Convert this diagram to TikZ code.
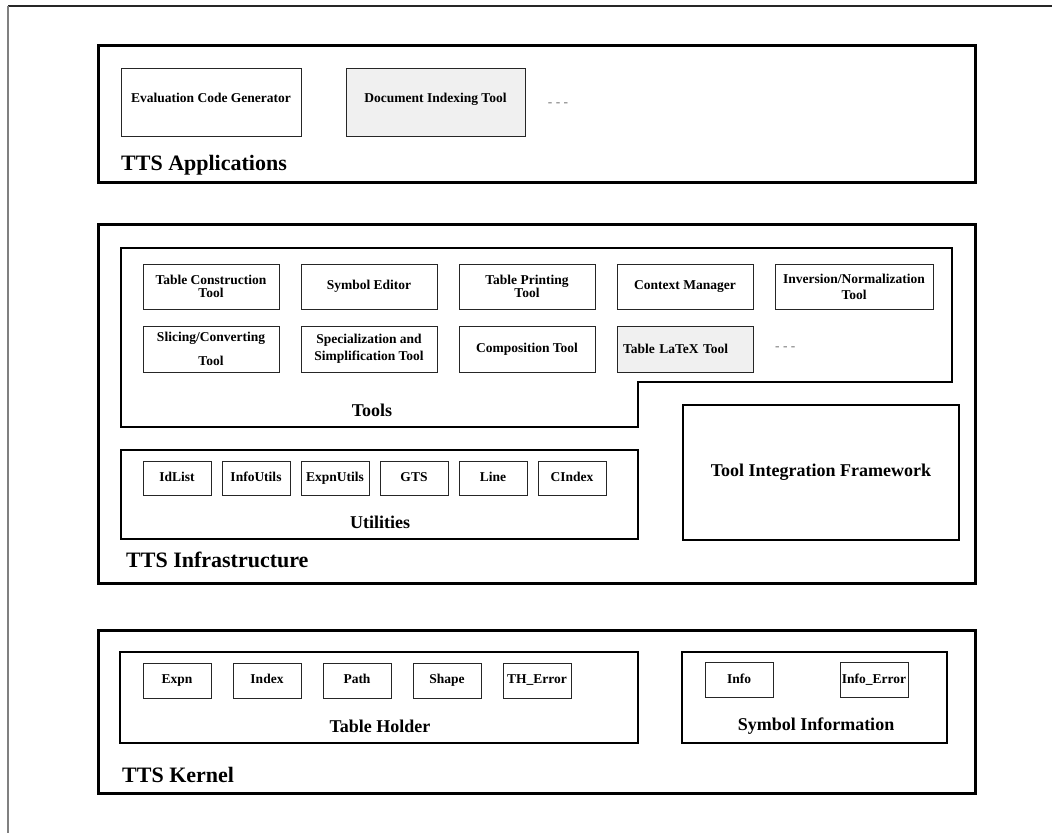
\documentclass[tikz,border=0pt]{standalone}
\usepackage{fontspec}
\setmainfont{Liberation Serif}
\usetikzlibrary{chains,positioning}

\begin{document}
\begin{tikzpicture}[x=1pt,y=-1pt,
  every node/.style={font=\bfseries},
  layerbox/.style={draw,line width=3pt,rectangle,anchor=north west,inner sep=0pt,outer sep=0pt},
  groupbox/.style={draw,line width=2pt,rectangle,anchor=north west,inner sep=0pt,outer sep=0pt},
  toolbox/.style={draw=black!85,line width=1pt,rectangle,inner sep=0pt,outer sep=0pt,
    minimum width=136pt,minimum height=45pt,align=center,
    font=\bfseries\fontsize{13.5}{13}\selectfont},
  oneline/.style={text height=9.5pt,text depth=3pt},
  smallbox/.style={toolbox,oneline,minimum width=68pt,minimum height=34pt},
  greyfill/.style={fill=black!6},
  layername/.style={anchor=base west,inner sep=0pt,font=\bfseries\fontsize{22}{24}\selectfont},
  groupname/.style={inner sep=0pt,font=\bfseries\fontsize{18}{20}\selectfont},
  moredots/.style={inner sep=0pt,text=black!55,font=\fontsize{13.5}{14}\selectfont},
]
\useasboundingbox (0,0) rectangle (1052,833);

% page frame
\coordinate (pagetop) at (8,6);
\coordinate (pageright) at (1052,6);
\coordinate (pagebottom) at (8,833);
\draw[black!85,line width=1.3pt] (pageright) -- (pagetop);
\draw[black!50,line width=1.3pt] (pagetop) -- (pagebottom);

% the three layers
\node[layerbox,minimum width=877pt,minimum height=137pt] (apps) at (98,45) {};
\node[layerbox,minimum width=877pt,minimum height=359pt] (infra) at (98,224) {};
\node[layerbox,minimum width=877pt,minimum height=163pt] (kernel) at (98,630) {};

% applications
\node[toolbox,oneline,text depth=9pt,anchor=north west,minimum width=180pt,minimum height=68pt] (evalgen) at (121,68) {Evaluation Code Generator};
\node[toolbox,oneline,text depth=9pt,greyfill,minimum width=179pt,minimum height=68pt,right=45pt of evalgen] (docindex) {Document Indexing Tool};
\node[moredots] (appsmore) at (558,105) {- - -};
\node[layername] (appsname) at (121,170) {TTS Applications};

% the tools
\draw[line width=2pt] (121,248) -- (952,248) -- (952,382) -- (638,382) -- (638,427) -- (121,427) -- cycle;
\begin{scope}[shift={(211,286.5)},start chain=going right,node distance=22pt]
\foreach \n/\t in {tcons/{Table Construction\\Tool},symed/{Symbol Editor},tprint/{Table Printing\\Tool},ctxman/{Context Manager}}
\node[toolbox,on chain] (\n) {\t};
\node[toolbox,on chain,minimum width=158pt] (invnorm) {Inversion/Normalization\\[3pt]Tool};
\end{scope}

\begin{scope}[shift={(211,349)},start chain=going right,node distance=22pt]
\foreach \n/\t in {slicer/{Slicing/Converting\\[11pt]Tool},specsimp/{Specialization and\\[4pt]Simplification Tool},compos/{Composition Tool}}
\node[toolbox,on chain,minimum height=46pt] (\n) {\t};
\node[toolbox,greyfill,on chain,minimum height=46pt,text width=124pt,align=left] (tablatex) {Table LaTeX Tool};
\node[moredots,on chain] (toolsmore) {- - -};
\end{scope}
\node[groupname] (toolsname) at (372,410) {Tools};

% the utilities
\node[groupbox,minimum width=517pt,minimum height=89pt] (utils) at (121,450) {};
\begin{scope}[shift={(177,478)},start chain=going right,node distance=11pt]
\foreach \n in {IdList,InfoUtils,ExpnUtils,GTS,Line,CIndex}
\node[smallbox,on chain] (u\n) {\n};
\end{scope}
\node[groupname] (utilsname) at (380,522) {Utilities};

\node[groupbox,minimum width=276pt,minimum height=135pt,font=\bfseries\fontsize{18}{20}\selectfont] (tif) at (683,405) {Tool Integration Framework};
\node[layername] (infraname) at (126,567) {TTS Infrastructure};

% the kernel
\node[groupbox,minimum width=518pt,minimum height=91pt] (tholder) at (120,652) {};
\begin{scope}[shift={(177,680.5)},start chain=going right,node distance=22pt]
\foreach \n/\t in {expn/Expn,index/Index,path/Path,shape/Shape,therr/TH\_Error}
\node[smallbox,on chain,minimum height=35pt] (\n) {\t};
\end{scope}
\node[groupname] (tholdername) at (380,726) {Table Holder};

\node[groupbox,minimum width=265pt,minimum height=91pt] (syminfo) at (682,652) {};
\node[smallbox,minimum height=35pt] (info) at (739,680) {Info};
\node[smallbox,minimum height=35pt,right=67pt of info] (infoerr) {Info\_Error};
\node[groupname] (syminfoname) at (816,726) {Symbol Information};
\node[layername] (kernelname) at (122,782) {TTS Kernel};
\end{tikzpicture}
\end{document}
